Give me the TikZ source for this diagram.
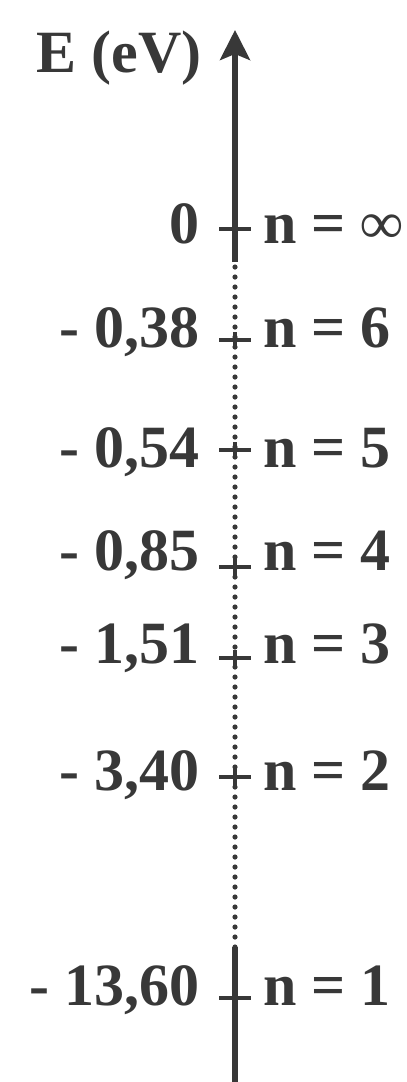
\documentclass[tikz,border=0pt]{standalone}
\usepackage{fontspec}
\setmainfont{Liberation Serif}
\usetikzlibrary{arrows.meta}
\begin{document}
\begin{tikzpicture}[x=0.5pt,y=-0.5pt,
  axisline/.style={draw=black!78, line width=2.6pt},
  dotline/.style={draw=black!78, line width=2.6pt, line cap=round, dash pattern=on 0pt off 5pt},
  levtick/.style={draw=black!78, line width=1.8pt},
  lbl/.style={font=\fontsize{30}{35}\selectfont\bfseries, text=black!78, inner sep=0pt},
  lev/.style={lbl, anchor=base east},
  qn/.style={lbl, anchor=base west}]
\useasboundingbox (0,0) rectangle (407,1082);
\coordinate (bot) at (235,1082);
\coordinate (s1) at (235,947);
\coordinate (s2) at (235,262);
\coordinate (top) at (235,30);
\draw[axisline] (bot) -- (s1);
\draw[dotline] (s1) -- (s2);
\draw[axisline, -{Stealth[length=15pt, width=15pt, inset=3pt]}] (s2) -- (top);
\node[lev] (E) at (202,72) {E (eV)};
\foreach \t/\b/\v/\n [count=\i] in {229/243/{0}/{∞}, 340/347/{- 0,38}/{6}, 450/467/{- 0,54}/{5}, 567/570/{- 0,85}/{4}, 658/663/{- 1,51}/{3}, 777/790/{- 3,40}/{2}, 998/1005/{- 13,60}/{1}}{
  \coordinate (T\i) at (235,\t);
  \draw[levtick] (219,\t) -- (251,\t);
  \draw[levtick] (T\i) ++(0,-8) -- ++(0,16);
  \node[lev] (V\i) at (200,\b) {\v};
  \node[qn] (N\i) at (263,\b) {n = \n};
}
\end{tikzpicture}
\end{document}
